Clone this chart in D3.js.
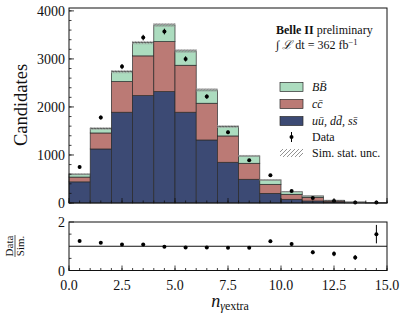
<!DOCTYPE html>
<html lang="en">
<head>
<meta charset="UTF-8">
<title>n gamma extra</title>
<script src="https://d3js.org/d3.v7.min.js"></script>
<style>
    body { margin: 0; padding: 0; background: #fff; }
    svg { display: block; }
    text { font-family: "Liberation Serif", "DejaVu Serif", serif; fill: #111; }
</style>
</head>
<body>
<svg id="vis" width="407" height="319"></svg>
<script>
    // bins of width 1 from 0 to 15
    const binEdges = d3.range(0, 15, 1);
    const qq = [440, 1125, 1890, 2236, 2320, 1890, 1312, 848, 494, 201, 77, 42, 20, 8, 3];
    const cc = [100, 333, 638, 827, 1040, 978, 765, 548, 333, 188, 104, 76, 22, 7, 3];
    const bb = [60, 92, 207, 277, 348, 299, 277, 194, 152, 90, 55, 28, 14, 5, 2];
    const simErr = [14, 20, 26, 28, 30, 27, 24, 20, 16, 12, 8, 6, 4, 3, 2];
    const dataY = [750, 1780, 2840, 3444, 3570, 3000, 2215, 1472, 889, 577, 250, 104, 42, 11, 12];
    const ratio = [1.22, 1.14, 1.07, 1.07, 0.98, 0.95, 0.95, 0.94, 0.94, 1.21, 1.09, 0.75, 0.69, 0.54, 1.50];
    const ratioErr = [0.04, 0.03, 0.02, 0.02, 0.02, 0.02, 0.02, 0.03, 0.04, 0.06, 0.07, 0.08, 0.1, 0.1, 0.38];
    const yTicks = [0, 1000, 2000, 3000, 4000];
    const xTicks = [0, 2.5, 5, 7.5, 10, 12.5, 15];

    const colors = { bb: "#acdcbf", cc: "#bb7a75", qq: "#3c4a74" };

    const svg = d3.select("#vis");
    const x = d3.scaleLinear().domain([0, 15]).range([69, 387]);
    const y = d3.scaleLinear().domain([0, 4060]).range([203, 8]);
    const yr = d3.scaleLinear().domain([0, 2]).range([270.5, 222]);

    const defs = svg.append("defs");
    const pat = defs.append("pattern")
        .attr("id", "hatch").attr("patternUnits", "userSpaceOnUse")
        .attr("width", 3).attr("height", 3);
    pat.append("path").attr("d", "M0,3 L3,0 M-1,1 L1,-1 M2,4 L4,2")
        .attr("stroke", "#888").attr("stroke-width", 0.7);
    const pat2 = defs.append("pattern")
        .attr("id", "hatchLeg").attr("patternUnits", "userSpaceOnUse")
        .attr("width", 4).attr("height", 4);
    pat2.append("path").attr("d", "M0,4 L4,0 M-1,1 L1,-1 M3,5 L5,3")
        .attr("stroke", "#777").attr("stroke-width", 0.8);

    const stacks = binEdges.map((b, i) => ({
        x0: b, x1: b + 1,
        layers: [
            { key: "qq", lo: 0, hi: qq[i] },
            { key: "cc", lo: qq[i], hi: qq[i] + cc[i] },
            { key: "bb", lo: qq[i] + cc[i], hi: qq[i] + cc[i] + bb[i] }
        ],
        tot: qq[i] + cc[i] + bb[i],
        err: simErr[i]
    }));

    const main = svg.append("g");
    stacks.forEach(s => {
        s.layers.forEach(l => {
            main.append("rect")
                .attr("x", x(s.x0)).attr("width", x(s.x1) - x(s.x0))
                .attr("y", y(l.hi)).attr("height", y(l.lo) - y(l.hi))
                .attr("fill", colors[l.key])
                .attr("stroke", "#2a2a2a").attr("stroke-width", 0.7);
        });
        main.append("rect")
            .attr("x", x(s.x0)).attr("width", x(s.x1) - x(s.x0))
            .attr("y", y(s.tot + s.err)).attr("height", y(s.tot - s.err) - y(s.tot + s.err))
            .attr("fill", "url(#hatch)")
            .attr("stroke", "#999").attr("stroke-width", 0.5);
    });

    // data points
    binEdges.forEach((b, i) => {
        const cx = x(b + 0.5), e = Math.sqrt(dataY[i]);
        main.append("line").attr("x1", cx).attr("x2", cx)
            .attr("y1", y(dataY[i] + e)).attr("y2", y(dataY[i] - e))
            .attr("stroke", "#000").attr("stroke-width", 1);
        main.append("circle").attr("cx", cx).attr("cy", y(dataY[i])).attr("r", 2).attr("fill", "#000");
    });

    // main frame and axes
    svg.append("rect").attr("x", 69).attr("y", 8).attr("width", 318).attr("height", 195)
        .attr("fill", "none").attr("stroke", "#111").attr("stroke-width", 1);

    function ticksLeft(g, scale, major, minor, x0) {
        minor.forEach(v => g.append("line").attr("x1", x0).attr("x2", x0 + 2.5)
            .attr("y1", scale(v)).attr("y2", scale(v)).attr("stroke", "#111").attr("stroke-width", 0.8));
        major.forEach(v => g.append("line").attr("x1", x0).attr("x2", x0 + 5)
            .attr("y1", scale(v)).attr("y2", scale(v)).attr("stroke", "#111").attr("stroke-width", 0.8));
    }
    function ticksBottom(g, y0) {
        d3.range(0, 15.01, 0.5).forEach(v => g.append("line").attr("x1", x(v)).attr("x2", x(v))
            .attr("y1", y0).attr("y2", y0 - 2.5).attr("stroke", "#111").attr("stroke-width", 0.8));
        xTicks.forEach(v => g.append("line").attr("x1", x(v)).attr("x2", x(v))
            .attr("y1", y0).attr("y2", y0 - 5).attr("stroke", "#111").attr("stroke-width", 0.8));
    }

    const ax = svg.append("g");
    ticksLeft(ax, y, yTicks, d3.range(0, 4001, 200), 69);
    ticksBottom(ax, 203);
    yTicks.forEach(v => ax.append("text").attr("x", 65).attr("y", y(v) + 5)
        .attr("text-anchor", "end").attr("font-size", 14).text(v));
    ax.append("text").attr("transform", "translate(27,105) rotate(-90)")
        .attr("text-anchor", "middle").attr("font-size", 18.5).text("Candidates");

    // ratio panel
    const rp = svg.append("g");
    rp.append("line").attr("x1", 69).attr("x2", 387).attr("y1", yr(1)).attr("y2", yr(1))
        .attr("stroke", "#111").attr("stroke-width", 1);
    binEdges.forEach((b, i) => {
        const cx = x(b + 0.5);
        rp.append("line").attr("x1", cx).attr("x2", cx)
            .attr("y1", yr(ratio[i] + ratioErr[i])).attr("y2", yr(ratio[i] - ratioErr[i]))
            .attr("stroke", "#000").attr("stroke-width", 1);
        rp.append("circle").attr("cx", cx).attr("cy", yr(ratio[i])).attr("r", 2).attr("fill", "#000");
    });
    rp.append("rect").attr("x", 69).attr("y", 222).attr("width", 318).attr("height", 48.5)
        .attr("fill", "none").attr("stroke", "#111").attr("stroke-width", 1);
    ticksLeft(rp, yr, [0, 2], [0.5, 1.5], 69);
    ticksBottom(rp, 270.5);
    [0, 2].forEach(v => rp.append("text").attr("x", 65).attr("y", yr(v) + 5)
        .attr("text-anchor", "end").attr("font-size", 14).text(v));
    xTicks.forEach(v => rp.append("text").attr("x", x(v)).attr("y", 290)
        .attr("text-anchor", "middle").attr("font-size", 14).text(d3.format(".1f")(v)));
    const rl = rp.append("g").attr("transform", "translate(15,246) rotate(-90)");
    rl.append("text").attr("x", 0).attr("y", -2).attr("text-anchor", "middle").attr("font-size", 11).text("Data");
    rl.append("line").attr("x1", -11).attr("x2", 11).attr("y1", 0).attr("y2", 0).attr("stroke", "#111").attr("stroke-width", 0.7);
    rl.append("text").attr("x", 0).attr("y", 8.5).attr("text-anchor", "middle").attr("font-size", 11).text("Sim.");

    // x label
    const xl = svg.append("text").attr("x", 230).attr("y", 307).attr("text-anchor", "middle").attr("font-size", 18);
    xl.append("tspan").attr("font-style", "italic").text("n");
    xl.append("tspan").attr("font-size", 12).attr("dy", 3).attr("font-style", "italic").text("γ");
    xl.append("tspan").attr("font-size", 12).text("extra");

    // annotation
    const an = svg.append("g");
    const t1 = an.append("text").attr("x", 276).attr("y", 34).attr("font-size", 12);
    t1.append("tspan").attr("font-weight", "bold").text("Belle II");
    t1.append("tspan").text(" preliminary");
    const t2 = an.append("text").attr("x", 276).attr("y", 49).attr("font-size", 12);
    t2.append("tspan").text("∫ ");
    t2.append("tspan").attr("font-style", "italic").text("ℒ");
    t2.append("tspan").text(" dt = 362 fb");
    t2.append("tspan").attr("font-size", 8.5).attr("dy", -4.5).text("−1");

    // legend
    const lg = svg.append("g");
    const legItems = [
        { key: "bb", y: 87, label: "BB̄" },
        { key: "cc", y: 104, label: "cc̄" },
        { key: "qq", y: 121, label: "uū, dd̄, ss̄" }
    ];
    legItems.forEach(d => {
        lg.append("rect").attr("x", 280).attr("y", d.y - 4.5).attr("width", 23).attr("height", 9)
            .attr("fill", colors[d.key]).attr("stroke", "#2a2a2a").attr("stroke-width", 0.7);
        lg.append("text").attr("x", 312).attr("y", d.y + 4).attr("font-size", 12)
            .attr("font-style", "italic").text(d.label);
    });
    lg.append("line").attr("x1", 291.5).attr("x2", 291.5).attr("y1", 132).attr("y2", 142)
        .attr("stroke", "#000").attr("stroke-width", 1);
    lg.append("circle").attr("cx", 291.5).attr("cy", 137).attr("r", 2).attr("fill", "#000");
    lg.append("text").attr("x", 312).attr("y", 141).attr("font-size", 12).text("Data");
    lg.append("rect").attr("x", 280).attr("y", 149).attr("width", 23).attr("height", 8)
        .attr("fill", "url(#hatchLeg)");
    lg.append("text").attr("x", 312).attr("y", 157).attr("font-size", 12).text("Sim. stat. unc.");
</script>
</body>
</html>
